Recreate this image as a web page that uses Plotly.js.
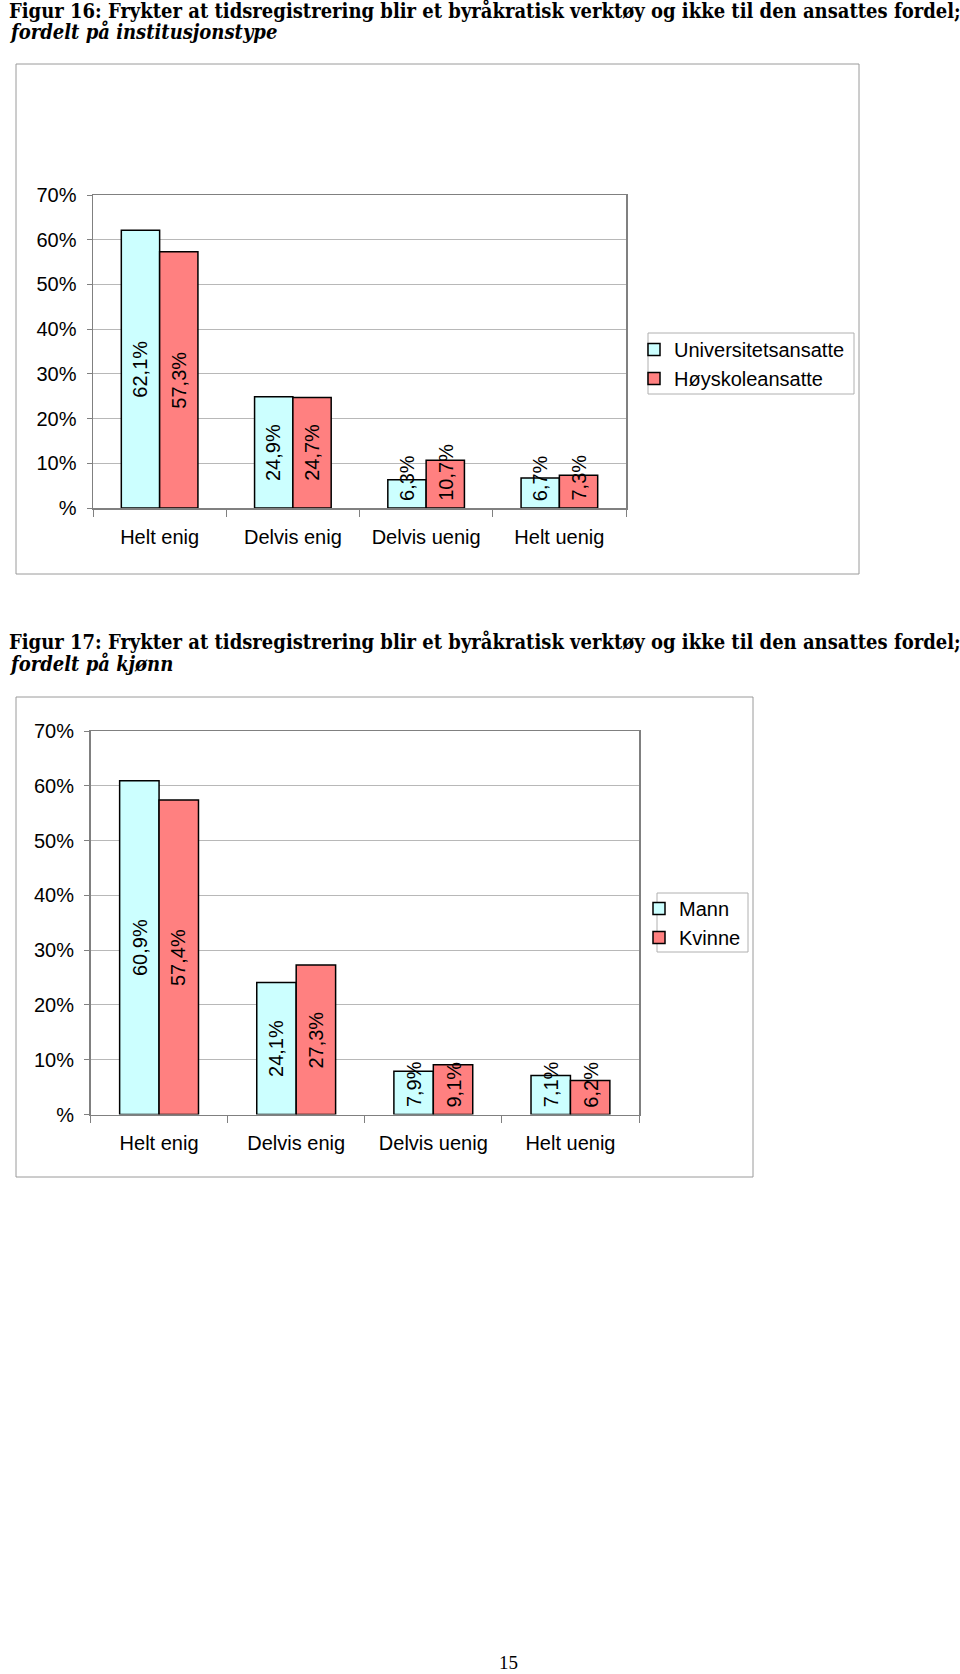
<!DOCTYPE html>
<html>
<head>
<meta charset="utf-8">
<script src="https://cdn.plot.ly/plotly-3.0.1.min.js"></script>
<style>
  html, body { margin: 0; padding: 0; background: #ffffff; }
  #chart { width: 960px; height: 1674px; }
</style>
</head>
<body>
<div id="chart"></div>
<script>
// ---------- data ----------
var categories = ["Helt enig", "Delvis enig", "Delvis uenig", "Helt uenig"];

var fig16Series = ["Universitetsansatte", "Høyskoleansatte"];
var universitetsansatte = [62.1, 24.9, 6.3, 6.7];
var hoyskoleansatte = [57.3, 24.7, 10.7, 7.3];

var fig17Series = ["Mann", "Kvinne"];
var mann = [60.9, 24.1, 7.9, 7.1];
var kvinne = [57.4, 27.3, 9.1, 6.2];

var yTickVals = [0, 10, 20, 30, 40, 50, 60, 70];
var yTickText = ["%", "10%", "20%", "30%", "40%", "50%", "60%", "70%"];

var title16a = "Figur 16: Frykter at tidsregistrering blir et byråkratisk verktøy og ikke til den ansattes fordel;";
var title16b = "fordelt på institusjonstype";
var title17a = "Figur 17: Frykter at tidsregistrering blir et byråkratisk verktøy og ikke til den ansattes fordel;";
var title17b = "fordelt på kjønn";
var pageNumber = "15";

// ---------- styling ----------
var W = 960, H = 1674;
function px(x) { return x / W; }
function py(y) { return 1 - y / H; }

var CYAN = "#CCFFFF", RED = "#FF8080";
var SANS = "Liberation Sans, Arial, sans-serif";
var SERIF = "DejaVu Serif Condensed, DejaVu Serif, serif";
var BARGAP = 0.425;

function fmt(v) { return v.toFixed(1).replace(".", ",") + "%"; }

function barTrace(name, vals, color, xa, ya, legendId) {
  return {
    type: "bar", name: name, x: categories, y: vals,
    xaxis: xa, yaxis: ya, legend: legendId,
    marker: { color: color, line: { color: "#000000", width: 1.5 } },
    hoverinfo: "skip"
  };
}

var data = [
  barTrace(fig16Series[0], universitetsansatte, CYAN, "x", "y", "legend"),
  barTrace(fig16Series[1], hoyskoleansatte, RED, "x", "y", "legend"),
  barTrace(fig17Series[0], mann, CYAN, "x2", "y2", "legend2"),
  barTrace(fig17Series[1], kvinne, RED, "x2", "y2", "legend2")
];

// data labels (rotated, centred in bar or sitting at the base if the bar is short)
var annotations = [];
var barW = (1 - BARGAP) / 2;
function addLabels(vals, seriesIndex, xref, yref) {
  vals.forEach(function (v, i) {
    var xpos = i + (seriesIndex === 0 ? -barW / 2 : barW / 2);
    var fits = v >= 15;
    annotations.push({
      xref: xref, yref: yref, x: xpos,
      y: fits ? v / 2 : 0,
      yanchor: fits ? "middle" : "bottom",
      yshift: fits ? 0 : 5,
      xanchor: "center",
      text: fmt(v), textangle: -90, showarrow: false,
      font: { family: SANS, size: 20, color: "#000000" }
    });
  });
}
addLabels(universitetsansatte, 0, "x", "y");
addLabels(hoyskoleansatte, 1, "x", "y");
addLabels(mann, 0, "x2", "y2");
addLabels(kvinne, 1, "x2", "y2");

function titleAnn(text, y, italic) {
  return {
    xref: "paper", yref: "paper", x: px(7), y: py(y),
    xanchor: "left", yanchor: "middle", showarrow: false,
    text: italic ? "<b><i>" + text + "</i></b>" : "<b>" + text + "</b>",
    font: { family: SERIF, size: 20, color: "#000000" }
  };
}
annotations.push(titleAnn(title16a, 11, false));
annotations.push(titleAnn(title16b, 32, true));
annotations.push(titleAnn(title17a, 642, false));
annotations.push(titleAnn(title17b, 664, true));
annotations.push({
  xref: "paper", yref: "paper", x: px(509), y: py(1662),
  xanchor: "center", yanchor: "middle", showarrow: false,
  text: pageNumber, font: { family: "Liberation Serif, serif", size: 19, color: "#000000" }
});

function xAxis(domain, anchor) {
  return {
    domain: domain, anchor: anchor, type: "category",
    tickson: "boundaries", ticks: "outside", ticklen: 7, tickcolor: "#808080", tickwidth: 1,
    showline: true, mirror: true, linecolor: "#808080", linewidth: 1.5,
    showgrid: false, zeroline: false, fixedrange: true,
    ticklabelstandoff: 10,
    tickfont: { family: SANS, size: 20, color: "#000000" }
  };
}
function yAxis(domain, anchor) {
  return {
    domain: domain, anchor: anchor, range: [0, 70],
    tickvals: yTickVals, ticktext: yTickText,
    ticks: "outside", ticklen: 5, tickcolor: "#808080", tickwidth: 1,
    showline: true, mirror: true, linecolor: "#808080", linewidth: 1.5,
    showgrid: true, gridcolor: "#b8b8b8", gridwidth: 1,
    zeroline: false, fixedrange: true,
    ticklabelstandoff: 6,
    tickfont: { family: SANS, size: 20, color: "#000000" }
  };
}

function rect(x0, y0, x1, y1, color) {
  return {
    type: "rect", xref: "paper", yref: "paper",
    x0: px(x0), x1: px(x1), y0: py(y1), y1: py(y0),
    line: { color: color, width: 1 }, fillcolor: "rgba(0,0,0,0)", layer: "below"
  };
}

var layout = {
  width: W, height: H,
  margin: { l: 0, r: 0, t: 0, b: 0, pad: 0 },
  paper_bgcolor: "#ffffff", plot_bgcolor: "#ffffff",
  barmode: "group", bargap: BARGAP, bargroupgap: 0,
  showlegend: true,
  font: { family: SANS, color: "#000000" },
  xaxis: xAxis([px(93), px(626)], "y"),
  yaxis: yAxis([py(508), py(195)], "x"),
  xaxis2: xAxis([px(90.5), px(639)], "y2"),
  yaxis2: yAxis([py(1114.5), py(731)], "x2"),
  legend: {
    x: px(634), y: py(330), xanchor: "left", yanchor: "top",
    bgcolor: "rgba(0,0,0,0)", borderwidth: 0, traceorder: "normal",
    font: { family: SANS, size: 20, color: "#000000" }, tracegroupgap: 0
  },
  legend2: {
    x: px(639), y: py(889), xanchor: "left", yanchor: "top",
    bgcolor: "rgba(0,0,0,0)", borderwidth: 0, traceorder: "normal",
    font: { family: SANS, size: 20, color: "#000000" }, tracegroupgap: 0
  },
  shapes: [
    rect(16, 64, 859, 574, "#9a9a9a"),
    rect(16, 697, 753, 1177, "#9a9a9a"),
    rect(648, 333, 854, 394, "#b0b0b0"),
    rect(657, 893, 748, 952, "#b0b0b0")
  ],
  annotations: annotations
};

Plotly.newPlot("chart", data, layout, { staticPlot: true, displayModeBar: false });
</script>
</body>
</html>
